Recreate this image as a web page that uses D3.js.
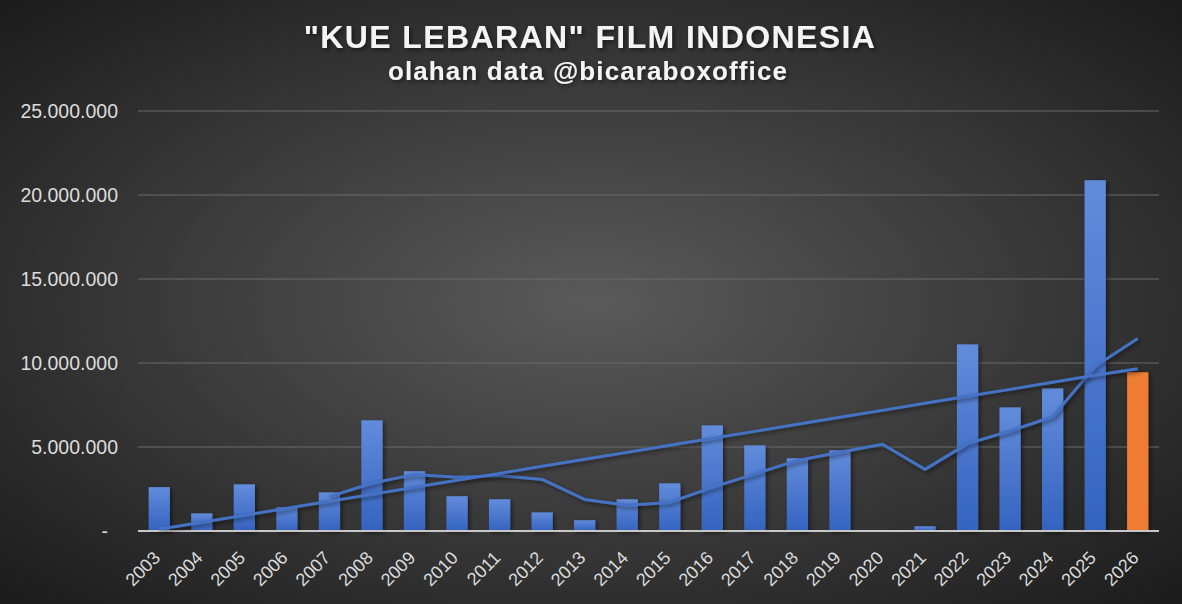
<!DOCTYPE html>
<html>
<head>
<meta charset="utf-8">
<script src="https://cdn.jsdelivr.net/npm/d3@7"></script>
<style>
  html, body { margin: 0; padding: 0; background: #2a2a2a; }
  svg { display: block; }
</style>
</head>
<body>
<div id="chart"></div>
<script>
// data
const years = ['2003','2004','2005','2006','2007','2008','2009','2010','2011','2012','2013','2014',
  '2015','2016','2017','2018','2019','2020','2021','2022','2023','2024','2025','2026'];
const viewers = [2.61, 1.05, 2.78, 1.41, 2.30, 6.59, 3.56, 2.07, 1.89, 1.11, 0.64, 1.89,
  2.84, 6.29, 5.10, 4.33, 4.80, 0, 0.28, 11.11, 7.36, 8.49, 20.88, 9.45].map(v => v * 1e6);
const movingAvg = [null, null, null, null, 2.05, 2.84, 3.37, 3.20, 3.30, 3.07, 1.88, 1.53,
  1.70, 2.60, 3.40, 4.20, 4.69, 5.16, 3.67, 5.20, 5.95, 6.80, 9.80, 11.46].map(v => v == null ? null : v * 1e6);
const trend = [0.10, 0.52, 0.93, 1.35, 1.77, 2.18, 2.60, 3.02, 3.43, 3.85, 4.27, 4.68,
  5.10, 5.52, 5.93, 6.35, 6.77, 7.18, 7.60, 8.02, 8.43, 8.85, 9.27, 9.66].map(v => v * 1e6);
const yTicks = [0, 5e6, 10e6, 15e6, 20e6, 25e6];
const highlightYear = '2026';

const W = 1182, H = 604;
const margin = { top: 111, right: 23, bottom: 73, left: 138 };
const width = W - margin.left - margin.right;
const height = H - margin.top - margin.bottom;
const font = '"Liberation Sans", Arial, sans-serif';

const svg = d3.select('#chart').append('svg')
  .attr('width', W)
  .attr('height', H);

const defs = svg.append('defs');

const bg = defs.append('radialGradient')
  .attr('id', 'bg')
  .attr('cx', '50%').attr('cy', '50%').attr('r', '70%');
bg.append('stop').attr('offset', '0%').attr('stop-color', '#5a5a5a');
bg.append('stop').attr('offset', '100%').attr('stop-color', '#1c1c1c');

const blue = defs.append('linearGradient')
  .attr('id', 'blueBar').attr('x1', 0).attr('y1', 0).attr('x2', 0).attr('y2', 1);
blue.append('stop').attr('offset', '0%').attr('stop-color', '#628cdb');
blue.append('stop').attr('offset', '100%').attr('stop-color', '#3463c0');

const shadow = defs.append('filter').attr('id', 'shadow')
  .attr('x', '-20%').attr('y', '-20%').attr('width', '150%').attr('height', '150%');
shadow.append('feDropShadow')
  .attr('dx', 2).attr('dy', 2).attr('stdDeviation', 2)
  .attr('flood-color', '#000').attr('flood-opacity', 0.5);

svg.append('rect')
  .attr('width', W).attr('height', H)
  .attr('fill', 'url(#bg)');

// titles
svg.append('text')
  .attr('x', 590).attr('y', 48)
  .attr('text-anchor', 'middle')
  .attr('fill', '#f4f4f4')
  .attr('font-family', font)
  .attr('font-weight', 'bold')
  .attr('font-size', 32)
  .attr('letter-spacing', 1.4)
  .attr('filter', 'url(#shadow)')
  .text('"KUE LEBARAN" FILM INDONESIA');

svg.append('text')
  .attr('x', 588).attr('y', 80)
  .attr('text-anchor', 'middle')
  .attr('fill', '#f4f4f4')
  .attr('font-family', font)
  .attr('font-weight', 'bold')
  .attr('font-size', 26)
  .attr('letter-spacing', 1.1)
  .attr('filter', 'url(#shadow)')
  .text('olahan data @bicaraboxoffice');

const g = svg.append('g')
  .attr('transform', `translate(${margin.left},${margin.top})`);

const x = d3.scaleBand().domain(years).range([0, width]).paddingInner(0.5).paddingOuter(0.25);
const y = d3.scaleLinear().domain([0, 25e6]).range([height, 0]);

// gridlines
g.selectAll('.grid')
  .data(yTicks.filter(d => d > 0))
  .enter()
  .append('line')
  .attr('class', 'grid')
  .attr('x1', 0).attr('x2', width)
  .attr('y1', d => y(d)).attr('y2', d => y(d))
  .attr('stroke', '#6a6a6a')
  .attr('stroke-opacity', 0.7)
  .attr('stroke-width', 1.5);

// y axis labels
const fmt = d => d === 0 ? '-' : d3.format(',')(d).replace(/,/g, '.');
const yAxis = g.append('g')
  .call(d3.axisLeft(y).tickValues(yTicks).tickSize(0).tickPadding(20).tickFormat(fmt));
yAxis.select('.domain').remove();
yAxis.selectAll('text')
  .attr('fill', '#dcdcdc')
  .attr('font-family', font)
  .attr('font-size', 19.5);
yAxis.selectAll('.tick text').filter(d => d === 0).attr('dx', -10);

// bars
g.selectAll('.bar')
  .data(years.map((yr, i) => ({ yr, v: viewers[i] })).filter(d => d.v > 0))
  .enter()
  .append('rect')
  .attr('class', 'bar')
  .attr('x', d => x(d.yr))
  .attr('width', x.bandwidth())
  .attr('y', d => y(d.v))
  .attr('height', d => height - y(d.v))
  .attr('fill', d => d.yr === highlightYear ? '#ee7d31' : 'url(#blueBar)')
  .attr('filter', 'url(#shadow)');

// x axis baseline
g.append('line')
  .attr('x1', 0).attr('x2', width)
  .attr('y1', height).attr('y2', height)
  .attr('stroke', '#c8c8c8')
  .attr('stroke-width', 2);

// moving average + linear trend
const cx = d => x(d) + x.bandwidth() / 2;
const line = d3.line()
  .defined(d => d.v != null)
  .x(d => cx(d.yr))
  .y(d => y(d.v));

g.append('path')
  .datum(years.map((yr, i) => ({ yr, v: movingAvg[i] })))
  .attr('d', line)
  .attr('fill', 'none')
  .attr('stroke', '#4472c4')
  .attr('stroke-width', 3)
  .attr('stroke-linejoin', 'round')
  .attr('filter', 'url(#shadow)');

g.append('path')
  .datum(years.map((yr, i) => ({ yr, v: trend[i] })))
  .attr('d', line)
  .attr('fill', 'none')
  .attr('stroke', '#4472c4')
  .attr('stroke-width', 3)
  .attr('filter', 'url(#shadow)');

// x axis labels
const xAxis = g.append('g')
  .attr('transform', `translate(0,${height})`)
  .call(d3.axisBottom(x).tickSize(0).tickPadding(0));
xAxis.select('.domain').remove();
xAxis.selectAll('text')
  .attr('fill', '#dcdcdc')
  .attr('font-family', font)
  .attr('font-size', 18)
  .attr('text-anchor', 'end')
  .attr('dy', 0)
  .attr('transform', 'translate(2,28) rotate(-45)');
</script>
</body>
</html>
